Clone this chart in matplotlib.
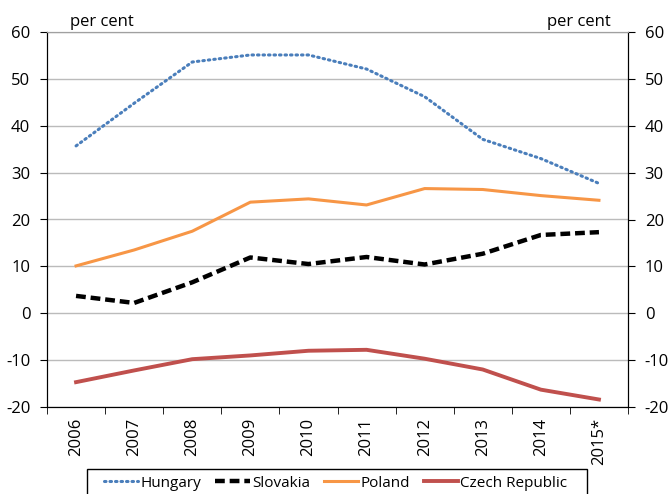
import matplotlib
matplotlib.use("Agg")
import matplotlib.pyplot as plt
from matplotlib.patches import Rectangle
import numpy as np

years = ["2006", "2007", "2008", "2009", "2010", "2011", "2012", "2013", "2014", "2015*"]
hungary = [35.7, 44.8, 53.6, 55.1, 55.1, 52.1, 46.2, 37.1, 33.0, 27.7]
slovakia = [3.7, 2.2, 6.6, 11.9, 10.5, 12.0, 10.4, 12.7, 16.7, 17.3]
poland = [10.1, 13.5, 17.5, 23.7, 24.4, 23.1, 26.6, 26.4, 25.1, 24.1]
czech = [-14.7, -12.2, -9.8, -9.0, -8.0, -7.8, -9.7, -12.0, -16.3, -18.4]
yticks = [-20, -10, 0, 10, 20, 30, 40, 50, 60]

plt.rcParams['font.family'] = ['Open Sans', 'DejaVu Sans']
W, H = 670, 494
fig = plt.figure(figsize=(W / 100, H / 100), dpi=100)
ax = fig.add_axes([47 / W, 1 - 407 / H, (628 - 47) / W, (407 - 32) / H])

x = np.arange(len(years))
ax.plot(x, hungary, color='#4A7EBB', lw=2.2, linestyle=(0, (0.5, 1.3)), dash_capstyle='round', label='Hungary')
ax.plot(x, slovakia, color='black', lw=3.2, linestyle=(0, (2.2, 1.1)), label='Slovakia')
ax.plot(x, poland, color='#F79646', lw=2.2, label='Poland')
ax.plot(x, czech, color='#C0504D', lw=2.8, label='Czech Republic')

ax.set_xlim(-0.5, len(years) - 0.5)
ax.set_ylim(-20, 60)
ax.set_yticks(yticks)
ax.set_yticklabels([str(v) for v in yticks], fontsize=12)
ax.yaxis.grid(True, color='#BBBBBB', lw=1.0, linestyle='-')
ax.set_axisbelow(True)

ax.set_xticks(x)
ax.set_xticklabels(years, rotation=90, fontsize=12)
ax.set_xticks(np.arange(-0.5, len(years), 1.0), minor=True)
ax.tick_params(axis='x', which='major', length=0, pad=8)
ax.tick_params(axis='x', which='minor', length=5, direction='out')
ax.tick_params(axis='y', length=5, direction='out', labelsize=12, pad=7)

ax2 = ax.twinx()
ax2.set_ylim(-20, 60)
ax2.set_yticks(yticks)
ax2.set_yticklabels([str(v) for v in yticks], fontsize=12)
ax2.tick_params(axis='y', length=5, direction='out', labelsize=12, pad=7)

for a in (ax, ax2):
    a.spines['top'].set_color('#A0A0A0')
    a.spines['left'].set_color('black')
    a.spines['right'].set_color('black')
    a.spines['bottom'].set_color('black')

ax.text(0.04, 1.005, 'per cent', transform=ax.transAxes, fontsize=12, ha='left', va='bottom')
ax.text(0.97, 1.005, 'per cent', transform=ax.transAxes, fontsize=12, ha='right', va='bottom')

fig.patches.append(Rectangle((87 / W, 1 - 505 / H), (587 - 87) / W, (505 - 469) / H,
                             transform=fig.transFigure, fill=False, edgecolor='black', lw=1.0))
leg = fig.legend(loc='center left', bbox_to_anchor=(104 / W, 1 - 483 / H), ncol=4, fontsize=11,
                 frameon=False, handlelength=2.25, handletextpad=0.15, columnspacing=0.9,
                 borderpad=0, borderaxespad=0)

fig.savefig('out.png', dpi=100)
